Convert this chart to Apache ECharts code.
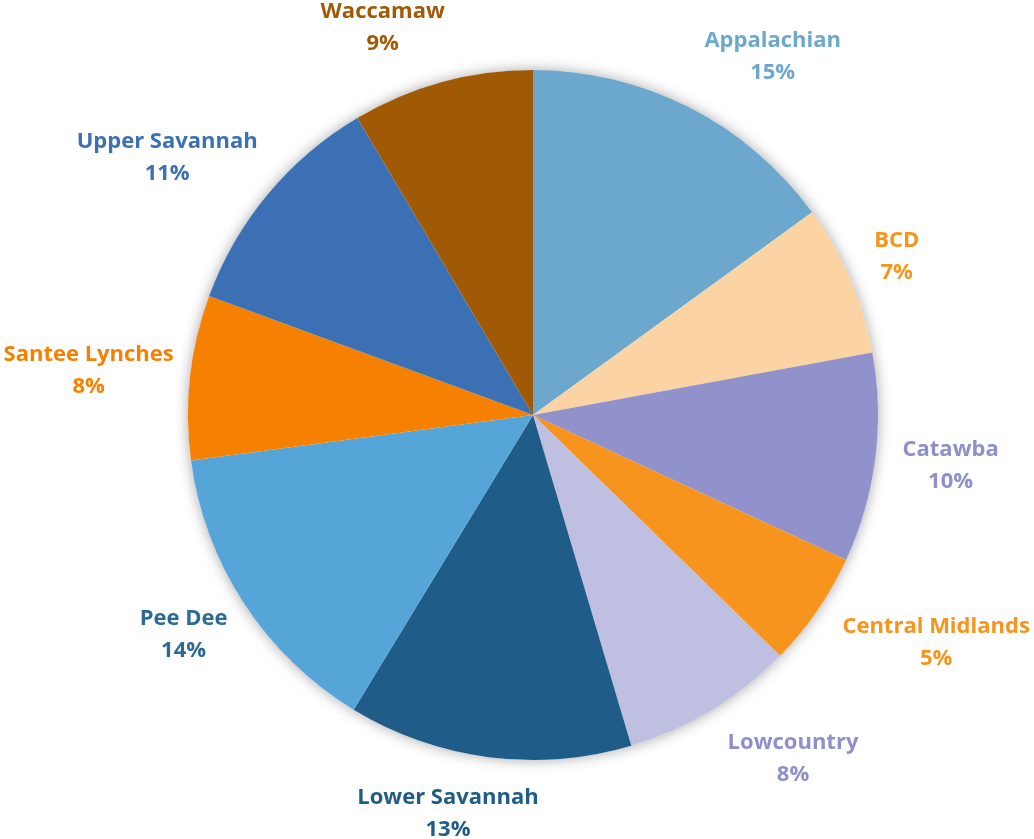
<!DOCTYPE html>
<html>
<head>
<meta charset="utf-8">
<script src="https://cdn.jsdelivr.net/npm/echarts@6/dist/echarts.min.js"></script>
<style>
  html, body { margin: 0; padding: 0; background: #ffffff; }
  #chart { width: 1034px; height: 839px; }
</style>
</head>
<body>
<div id="chart"></div>
<script>
const categories = ['Appalachian', 'BCD', 'Catawba', 'Central Midlands', 'Lowcountry',
  'Lower Savannah', 'Pee Dee', 'Santee Lynches', 'Upper Savannah', 'Waccamaw'];
const values = [15.0, 7.1, 9.8, 5.4, 8.1, 13.3, 14.2, 7.7, 10.9, 8.5];
const sliceColors = ['#6CA8CE', '#FCD3A2', '#9192CB', '#F7941E', '#BEBFE1',
  '#1F5C87', '#56A5D9', '#F68000', '#3B71B4', '#A05A05'];
const labelColors = ['#6CA8CE', '#F7941E', '#8E8FCB', '#F7941E', '#8E8FCB',
  '#1F5C87', '#2E6A94', '#F68000', '#3B71B4', '#A05A05'];

const CX = 533, CY = 415, R = 345, GAP = 25;
const total = values.reduce((a, b) => a + b, 0);
const midAngles = [];
let acc = 0;
values.forEach(v => { midAngles.push((acc + v / 2) / total * 2 * Math.PI); acc += v; });

function clamp(t) { return Math.max(-1, Math.min(1, t)); }

const chart = echarts.init(document.getElementById('chart'), null, { renderer: 'canvas' });
chart.setOption({
  backgroundColor: '#ffffff',
  animation: false,
  series: [
    {
      type: 'pie',
      silent: true,
      center: [CX, CY],
      radius: R,
      z: 1,
      label: { show: false },
      labelLine: { show: false },
      data: [{ value: 1, itemStyle: { color: '#ffffff', shadowBlur: 14, shadowColor: 'rgba(0,0,0,0.35)' } }]
    },
    {
      type: 'pie',
      center: [CX, CY],
      radius: R,
      z: 2,
      startAngle: 90,
      clockwise: true,
      avoidLabelOverlap: false,
      percentPrecision: 0,
      itemStyle: { borderWidth: 0 },
      label: {
        show: true,
        position: 'outside',
        formatter: '{b}\n{d}%',
        fontFamily: 'Open Sans',
        fontWeight: 'bold',
        fontSize: 22,
        lineHeight: 32
      },
      labelLine: { show: false },
      labelLayout: function (p) {
        const a = midAngles[p.dataIndex];
        const ux = Math.sin(a), uy = -Math.cos(a);
        const hw = p.labelRect.width / 2, hh = p.labelRect.height / 2;
        const ax = CX + (R + GAP) * ux, ay = CY + (R + GAP) * uy;
        const fx = ux > 0 ? 1.05 : 0.9;
        return {
          x: ax + hw * fx * clamp(ux / 0.28),
          y: ay + hh * 1.0 * uy,
          align: 'center',
          verticalAlign: 'middle'
        };
      },
      data: categories.map((c, i) => ({
        name: c,
        value: values[i],
        itemStyle: { color: sliceColors[i] },
        label: { color: labelColors[i] }
      }))
    }
  ]
});
</script>
</body>
</html>
